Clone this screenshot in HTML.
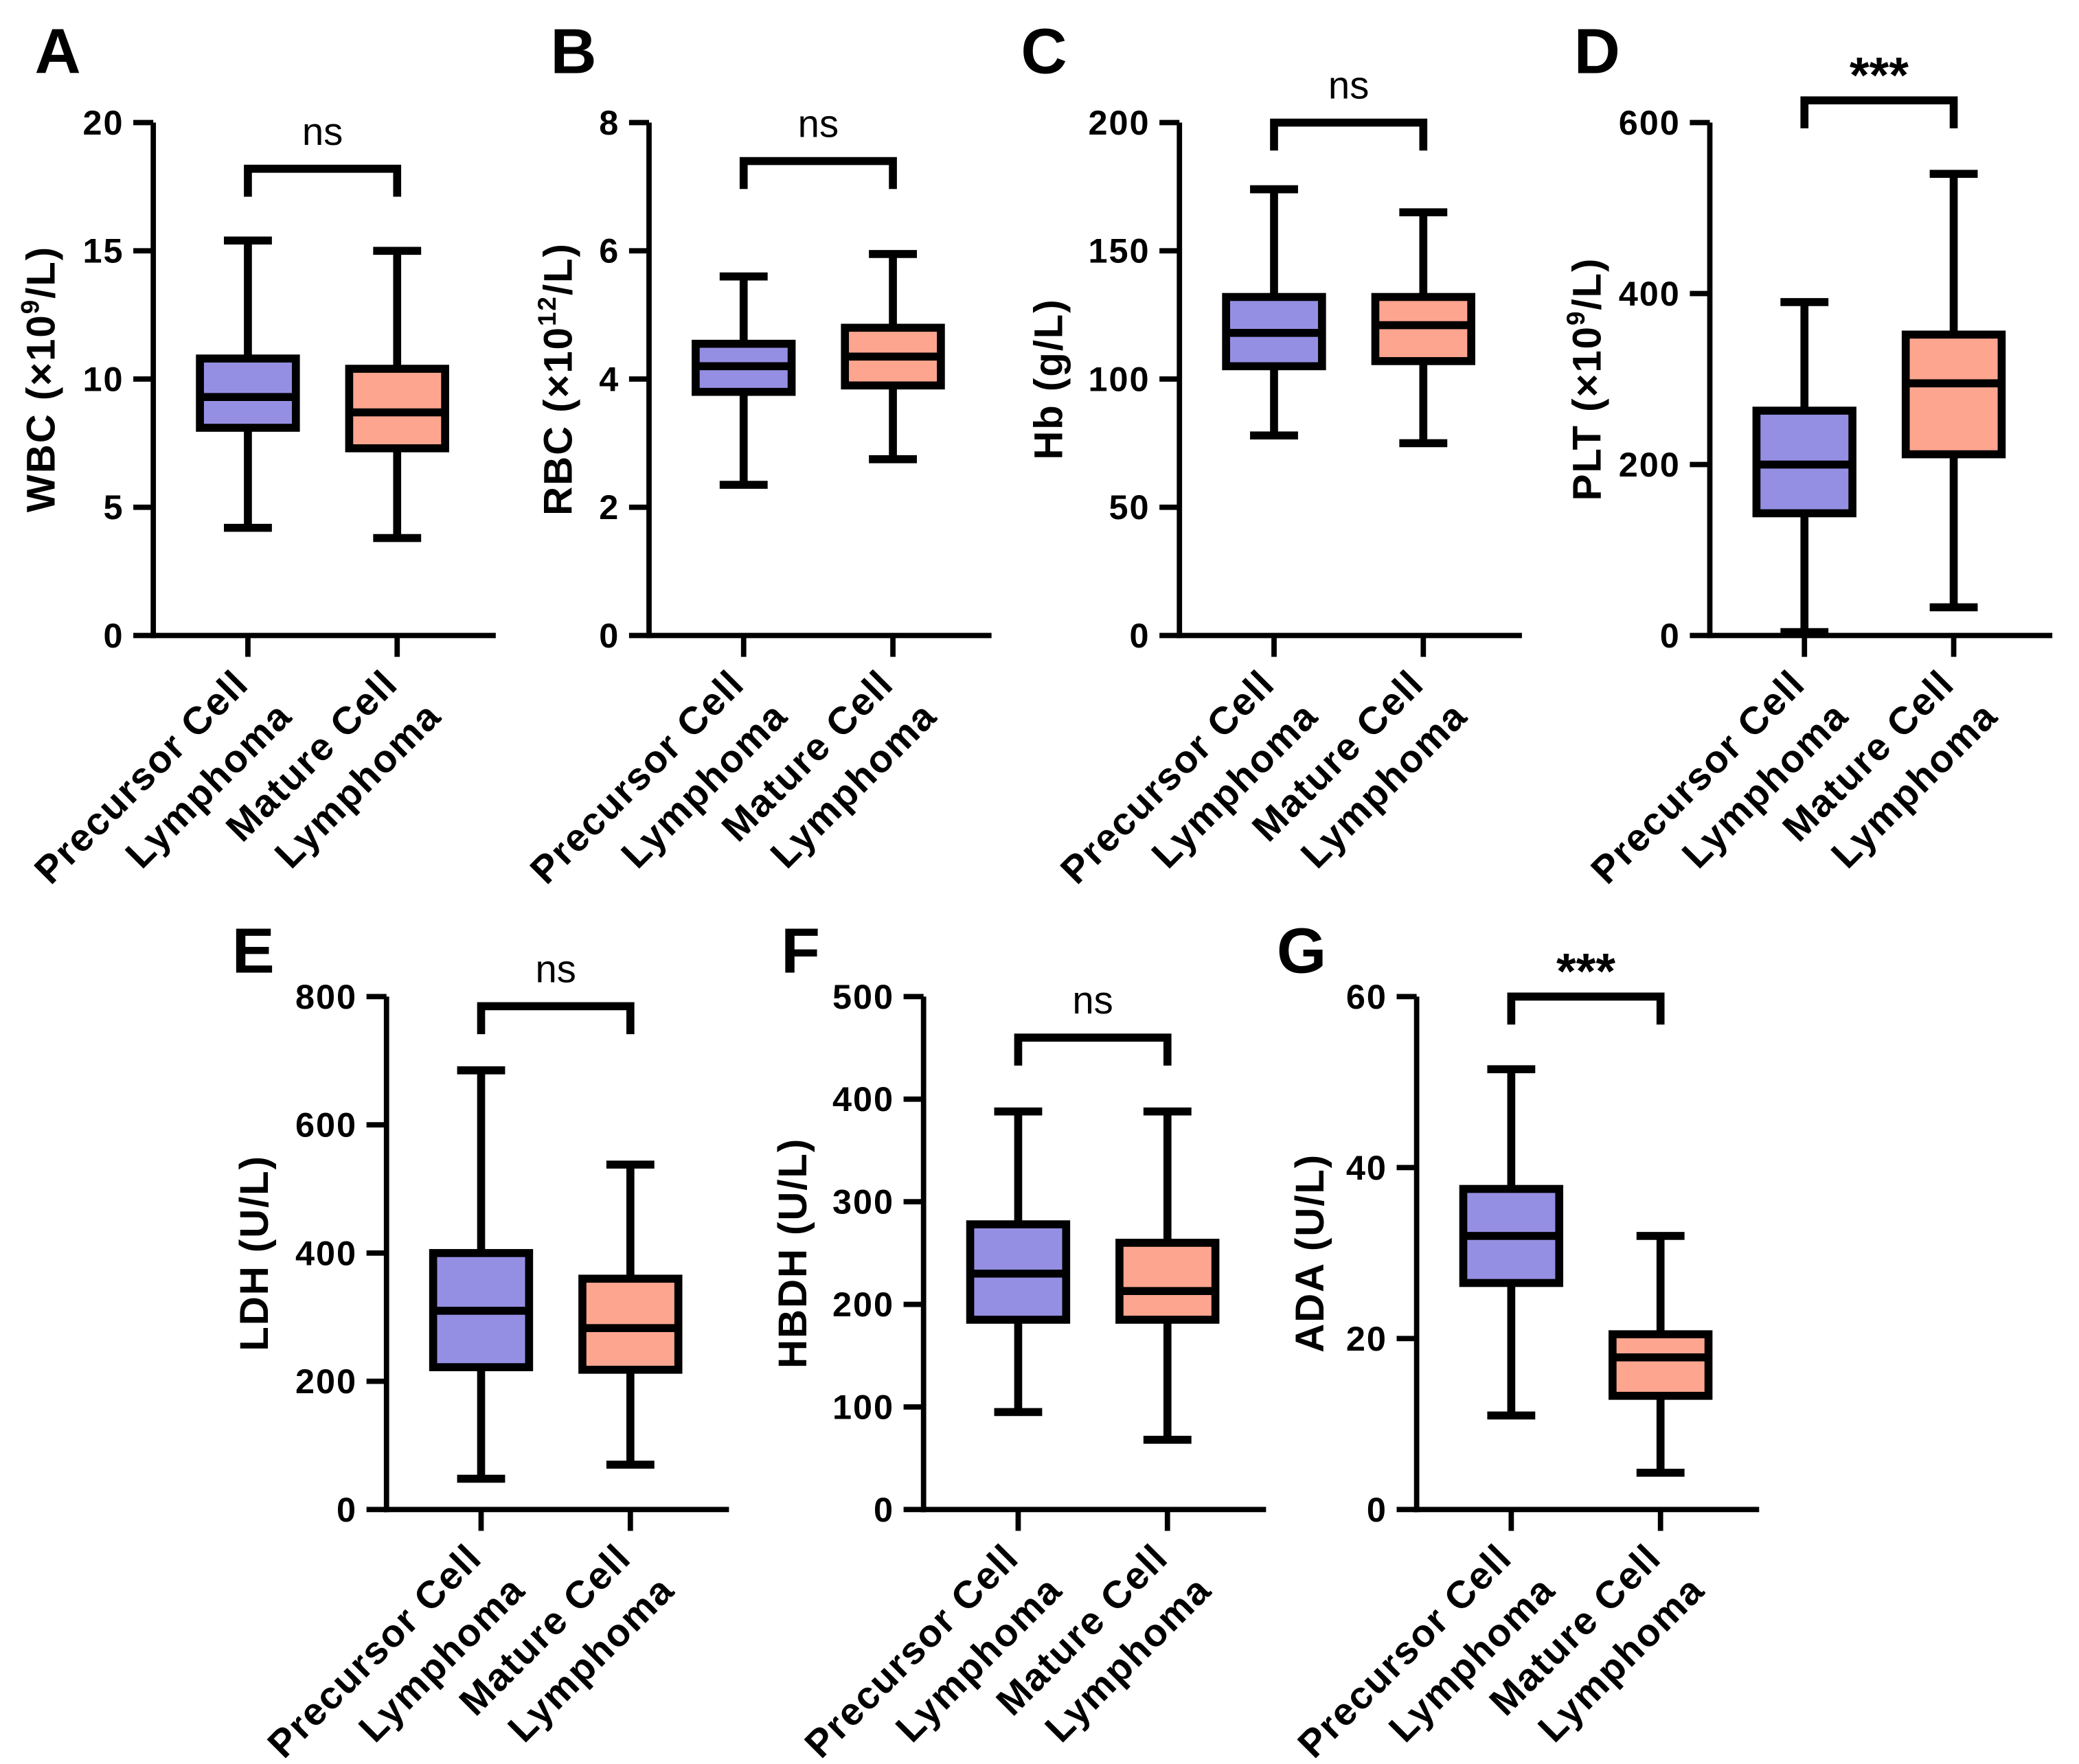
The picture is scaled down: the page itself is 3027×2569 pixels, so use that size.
<!DOCTYPE html>
<html><head><meta charset="utf-8">
<style>
html,body{margin:0;padding:0;background:#fff;}
svg{display:block;}
text{font-family:"Liberation Sans",Arial,sans-serif;font-weight:bold;fill:#000;}
</style></head>
<body>
<svg id="fig" xmlns="http://www.w3.org/2000/svg" width="3027" height="2569" viewBox="0 0 1560 1324">
<rect width="1560" height="1324" fill="#fff"/>
</svg>
<script>
const panelLetters = ["A","B","C","D","E","F","G"];
const axisTitles = ["WBC (×10|9|/L)","RBC (×10|12|/L)","Hb (g/L)","PLT (×10|9|/L)","LDH (U/L)","HBDH (U/L)","ADA (U/L)"];
const yMax = [20,8,200,600,800,500,60];
const yTicks = [[0,5,10,15,20],[0,2,4,6,8],[0,50,100,150,200],[0,200,400,600],[0,200,400,600,800],[0,100,200,300,400,500],[0,20,40,60]];
const categories = [["Precursor Cell","Lymphoma"],["Mature Cell","Lymphoma"]];
const significance = ["ns","ns","ns","***","ns","ns","***"];
const bracketValues = [18.2,7.4,200,626,785,460,60];
// [min, q1, median, q3, max]
const precursorStats = [[4.2,8.1,9.3,10.8,15.4],[2.35,3.8,4.2,4.55,5.6],[78,105,118,132,174],[4,143,200,263,390],[48,222,310,400,685],[95,185,230,278,388],[11,26.5,32,37.5,51.5]];
const matureStats = [[3.8,7.3,8.7,10.4,15.0],[2.75,3.9,4.35,4.8,5.95],[75,107,121,132,165],[33,212,295,352,540],[70,218,283,360,538],[68,185,213,260,388],[4.3,13.3,17.8,20.5,32]];

const layout = [
 {ax:115,top:92,bot:477,letterX:26,letterY:55,titleX:30},
 {ax:487,top:92,bot:477,letterX:413,letterY:55,titleX:418},
 {ax:885,top:92,bot:477,letterX:766,letterY:55,titleX:786},
 {ax:1283,top:92,bot:477,letterX:1181,letterY:55,titleX:1190},
 {ax:290,top:748,bot:1133,letterX:174,letterY:730,titleX:190},
 {ax:693,top:748,bot:1133,letterX:586,letterY:730,titleX:594},
 {ax:1063,top:748,bot:1133,letterX:958,letterY:730,titleX:982}
];
const colors = ["#958fe3","#fda58f"];
const NS = "http://www.w3.org/2000/svg";
const svg = document.getElementById("fig");
function mk(tag, attrs, parent){const e=document.createElementNS(NS,tag);for(const k in attrs)e.setAttribute(k,attrs[k]);(parent||svg).appendChild(e);return e;}

layout.forEach((L,p)=>{
  const g = mk("g",{});
  
  
  const y = v => L.bot - v/yMax[p]*(L.bot-L.top);
  const xs = [L.ax+71, L.ax+183];
  const lt = mk("text",{x:L.letterX,y:L.letterY,"font-size":48},g); lt.textContent=panelLetters[p];
  
  
  const ya = mk("line",{x1:L.ax,y1:L.top,x2:L.ax,y2:L.bot+2,stroke:"#000","stroke-width":4},g);
  
  
  const xa = mk("line",{x1:L.ax-2,y1:L.bot,x2:L.ax+257,y2:L.bot,stroke:"#000","stroke-width":4},g);
  
  
  yTicks[p].forEach(t=>{
    mk("line",{x1:L.ax-15,y1:y(t),x2:L.ax,y2:y(t),stroke:"#000","stroke-width":4},g);
    const tx = mk("text",{x:L.ax-22,y:y(t)+9,"font-size":26,"text-anchor":"end","letter-spacing":"1"},g); tx.textContent=t;
    
    
  });
  const parts = axisTitles[p].split("|");
  const cy = (L.top+L.bot)/2;
  const tt = mk("text",{x:0,y:0,"font-size":30,"text-anchor":"middle","letter-spacing":"1",transform:`translate(${L.titleX+11},${cy}) rotate(-90)`},g);
  
  
  const s1=mk("tspan",{},tt); s1.textContent=parts[0];
  if(parts.length>1){const s2=mk("tspan",{dy:-12,"font-size":19},tt); s2.textContent=parts[1]; const s3=mk("tspan",{dy:12},tt); s3.textContent=parts[2];}
  [precursorStats[p],matureStats[p]].forEach((st,i)=>{
    const cx = xs[i], bw=72, cw=36;
    const bg = mk("g",{},g);
    
    
    mk("line",{x1:cx,y1:y(st[0]),x2:cx,y2:y(st[4]),stroke:"#000","stroke-width":6},bg);
    mk("line",{x1:cx-cw/2,y1:y(st[0]),x2:cx+cw/2,y2:y(st[0]),stroke:"#000","stroke-width":6},bg);
    mk("line",{x1:cx-cw/2,y1:y(st[4]),x2:cx+cw/2,y2:y(st[4]),stroke:"#000","stroke-width":6},bg);
    mk("rect",{x:cx-bw/2,y:y(st[3]),width:bw,height:y(st[1])-y(st[3]),fill:colors[i],stroke:"#000","stroke-width":6},bg);
    mk("line",{x1:cx-bw/2,y1:y(st[2]),x2:cx+bw/2,y2:y(st[2]),stroke:"#000","stroke-width":6},bg);
    mk("line",{x1:cx,y1:L.bot,x2:cx,y2:L.bot+16,stroke:"#000","stroke-width":4},g);
    const lg = mk("g",{transform:`translate(${cx+2},${L.bot+38}) rotate(-45)`},g);
    
    
    const a=mk("text",{x:0,y:0,"font-size":29,"text-anchor":"end","letter-spacing":"1"},lg); a.textContent=categories[i][0];
    const b=mk("text",{x:6,y:40,"font-size":29,"text-anchor":"end","letter-spacing":"1"},lg); b.textContent=categories[i][1];
  });
  const by = y(bracketValues[p]);
  const br = mk("path",{d:`M${xs[0]},${by+21} V${by} H${xs[1]} V${by+21}`,fill:"none",stroke:"#000","stroke-width":6},g);
  
  
  const isNs = significance[p]=="ns";
  const sig = mk("text",{x:(xs[0]+xs[1])/2,y:by-(isNs?18:6),"font-size":isNs?29:38,"text-anchor":"middle"},g);
  sig.style.fontWeight = isNs ? "normal" : "bold";
  sig.textContent=significance[p];
  
  
});
</script>
</body></html>
